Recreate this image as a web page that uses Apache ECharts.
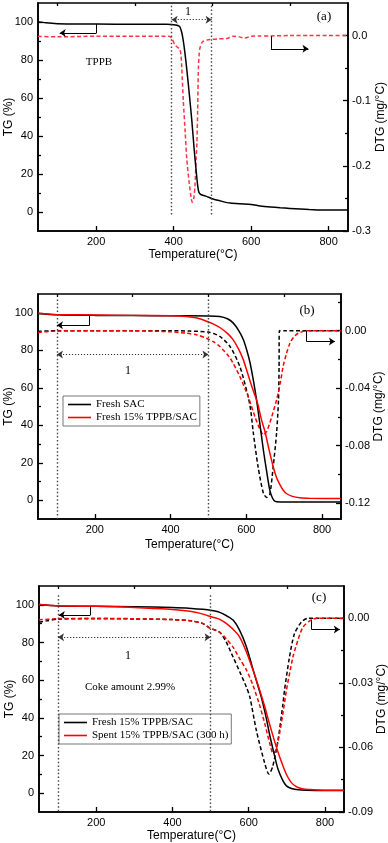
<!DOCTYPE html>
<html><head><meta charset="utf-8">
<script src="https://cdn.jsdelivr.net/npm/echarts@6/dist/echarts.min.js"></script>
<style>html,body{margin:0;padding:0;background:#fff}#c{width:388px;height:843px}</style>
</head><body><div id="c"></div>
<script>
// ---------- data ----------
const xTickLabels = [200, 400, 600, 800];
const xMinorTicks = [100, 300, 500, 700];
const tgTickLabels = [0, 20, 40, 60, 80, 100];
const tgMinorTicks = [10, 30, 50, 70, 90];
const dtgTicksA = [-0.3, -0.2, -0.1, 0];
const dtgMinorA = [-0.25, -0.15, -0.05];
const dtgTicksB = [-0.12, -0.08, -0.04, 0];
const dtgMinorB = [-0.10, -0.06, -0.02, 0.02];
const dtgTicksC = [-0.09, -0.06, -0.03, 0];
const dtgMinorC = [-0.075, -0.045, -0.015];

// (a) TPPB
const aTgTemp = [50,70,100,150,200,300,380,395,405,412,416,421,425,429,434,440,447,453,458,462,465,470,485,502,525,546,570,600,623,650,675,700,727,750,770,800,850];
const aTg = [100.2,99.6,99.1,98.9,98.9,98.8,98.8,98.7,98.4,98.0,97.5,94.5,90,84,75,63,48,33,22,14,10.5,9.2,8.2,6.8,5.6,4.7,4.3,4.0,3.2,2.6,2.2,1.9,1.6,1.3,1.1,1.0,1.0];
const aDtgTemp = [50,100,150,200,250,300,350,388,395,403,410,416,419,421,425,430,434,440,445,448,452,455,458,460,462,464,466,468,472,477,485,494,515,537,554,570,580,590,600,620,650,700,750,800,850];
const aDtg = [-0.001,-0.002,-0.0015,-0.001,-0.001,-0.001,-0.001,-0.001,-0.004,-0.0137,-0.018,-0.021,-0.03,-0.049,-0.1,-0.15,-0.19,-0.225,-0.248,-0.256,-0.25,-0.232,-0.19,-0.166,-0.115,-0.049,-0.028,-0.019,-0.012,-0.0087,-0.007,-0.006,-0.005,-0.0046,-0.001,-0.002,-0.0037,-0.003,-0.001,-0.0008,-0.0005,0,0,0,0];

// (b) Fresh SAC / Fresh 15% TPPB/SAC
const bTg1Temp = [50,100,200,300,400,500,530,550,565,580,592,602,610,619,627,636,645,654,662,669,676,690,850];
const bTg1 = [99.6,98.9,98.6,98.5,98.4,98.3,98.0,96.8,94.6,90.5,85.7,79.5,73.2,63.5,53.6,40.5,26.8,15,5.4,1.2,-0.6,-0.9,-0.9];
const bTg2Temp = [50,80,100,200,300,400,442,470,495,515,531,550,565,580,592,600,610,620,630,640,650,660,671,680,689,697,706,720,741,770,850];
const bTg2 = [99.8,99.3,99.0,98.8,98.6,98.4,98.0,97.2,95.5,93.8,92.0,89.0,85.7,80.5,75.0,70.0,63.5,57.5,51.5,43.0,36.0,27.0,17.9,12.0,8.2,5.5,3.6,2.2,1.3,1.0,0.9];
const bDtg1Temp = [50,100,200,300,400,450,500,530,557,583,605,612,618,631,645,654,662,671,680,685,686.5,687,700,850];
const bDtg1 = [-0.0005,0,0,0,0,-0.0003,-0.001,-0.004,-0.011,-0.025,-0.046,-0.056,-0.07,-0.0946,-0.113,-0.116,-0.114,-0.0946,-0.071,-0.048,-0.025,0,0,0];
const bDtg2Temp = [50,80,150,300,350,400,442,470,495,515,530,557,583,605,623,635,645,654,667,680,690,697,706,715,725,737,750,760,850];
const bDtg2 = [-0.0012,-0.0005,0,0,-0.0003,-0.0008,-0.0018,-0.003,-0.0053,-0.008,-0.011,-0.019,-0.032,-0.046,-0.06,-0.068,-0.0725,-0.07,-0.06,-0.048,-0.036,-0.025,-0.016,-0.0088,-0.0045,-0.0018,-0.0005,0,0];

// (c) Fresh / Spent 15% TPPB/SAC
const cTg1Temp = [50,80,100,200,300,400,450,480,500,524,542,559,576,594,611,622,633,646,655,668,677,690,699,712,725,751,800,850];
const cTg1 = [100.2,99.7,99.4,99.2,99.0,98.6,98.1,97.6,97.1,96.0,94.2,91.9,86.6,77.8,66,58.5,51,40,31,19.7,12.7,6.5,3.9,2.5,2.0,1.6,1.4,1.4];
const cTg2Temp = [50,100,200,250,300,350,400,450,471,506,524,541,559,576,594,611,626,642,655,668,679,690,700,712,725,738,760,800,850];
const cTg2 = [100.2,99.5,99.2,99.0,98.6,98.1,97.5,96.5,95.6,93.4,92.3,90.2,87.0,83.0,75.0,65.5,56.5,46,36.5,27.5,20.5,14.4,9.5,5.6,3.5,2.5,1.9,1.6,1.6];
const cDtg1Temp = [50,70,100,200,300,400,450,480,498,524,541,559,577,594,603,620,642,653,663,677,690,694,707,720,738,755,850];
const cDtg1 = [-0.0018,-0.0012,-0.0004,-0.0002,-0.0003,-0.0006,-0.0012,-0.0025,-0.0045,-0.0065,-0.011,-0.018,-0.025,-0.032,-0.0365,-0.052,-0.0673,-0.0724,-0.0689,-0.0565,-0.0396,-0.0334,-0.018,-0.0072,-0.0018,0,0];
const cDtg2Temp = [50,100,200,300,400,450,480,498,524,541,559,577,594,611,628,642,655,664,672,681,690,699,708,716,725,742,764,780,850];
const cDtg2 = [-0.0007,-0.0002,0,-0.0002,-0.0006,-0.0012,-0.0025,-0.0045,-0.0065,-0.0095,-0.0134,-0.019,-0.024,-0.031,-0.04,-0.0488,-0.058,-0.0627,-0.061,-0.0535,-0.044,-0.0334,-0.025,-0.018,-0.0125,-0.0042,-0.0007,0,0];

// ---------- styling ----------
const SANS = 'Liberation Sans, Arial, sans-serif';
const SERIF = 'Liberation Serif, Times New Roman, serif';
const BLACK = '#000';
const RED = '#ff0000';
const RED_A = '#ff3344';
const zip = (xs, ys) => xs.map((x, i) => [x, ys[i]]);

const grids = [
  {left: 38, top: 3, width: 310, height: 228},
  {left: 38, top: 294, width: 303, height: 225},
  {left: 39, top: 586, width: 305, height: 226}
].map(g => Object.assign({show: true, borderColor: '#000', borderWidth: 1.6, backgroundColor: 'transparent', outerBoundsMode: 'none'}, g));

const xAxes = [], yAxes = [];
const xGaps = [18, 20, 18];
const rightGaps = [27, 32, 32];
const dtgCfg = [
  {min: -0.3, max: 0.05, ticks: dtgTicksA, minor: dtgMinorA, dec: 1},
  {min: -0.131, max: 0.0255, ticks: dtgTicksB, minor: dtgMinorB, dec: 2},
  {min: -0.09, max: 0.015, ticks: dtgTicksC, minor: dtgMinorC, dec: 2}
];
const lineCommon = {show: true, onZero: false, lineStyle: {color: '#000', width: 1.6}};
const nameFont = {fontFamily: SANS, fontSize: 12, color: '#000'};
const labelFont = {fontFamily: SANS, fontSize: 11, color: '#000'};
[0, 1, 2].forEach(g => {
  xAxes.push({type: 'value', gridIndex: g, min: 50, max: 850,
    name: 'Temperature(°C)', nameLocation: 'middle', nameGap: xGaps[g], nameMoveOverlap: false,
    nameTextStyle: nameFont,
    axisLine: lineCommon,
    axisTick: {inside: true, length: 5, customValues: xTickLabels, lineStyle: {color: '#000', width: 1.3}},
    axisLabel: Object.assign({customValues: xTickLabels, margin: 5}, labelFont),
    splitLine: {show: false}});
  xAxes.push({type: 'value', gridIndex: g, min: 50, max: 850,
    axisLine: {show: false, onZero: false},
    axisTick: {inside: true, length: 3, customValues: xMinorTicks, lineStyle: {color: '#000', width: 1.3}},
    axisLabel: {show: false}, splitLine: {show: false}});
  const d = dtgCfg[g];
  yAxes.push({type: 'value', gridIndex: g, min: -10, max: 110, position: 'left',
    name: 'TG (%)', nameLocation: 'middle', nameGap: 23, nameRotate: 90, nameMoveOverlap: false,
    nameTextStyle: nameFont,
    axisLine: lineCommon,
    axisTick: {inside: true, length: 5, customValues: tgTickLabels, lineStyle: {color: '#000', width: 1.3}},
    axisLabel: Object.assign({customValues: tgTickLabels, margin: 5}, labelFont),
    splitLine: {show: false}});
  yAxes.push({type: 'value', gridIndex: g, min: -10, max: 110, position: 'left',
    axisLine: {show: false, onZero: false},
    axisTick: {inside: true, length: 3, customValues: tgMinorTicks, lineStyle: {color: '#000', width: 1.3}},
    axisLabel: {show: false}, splitLine: {show: false}});
  yAxes.push({type: 'value', gridIndex: g, min: d.min, max: d.max, position: 'right',
    name: 'DTG (mg/°C)', nameLocation: 'middle', nameGap: rightGaps[g], nameRotate: 90, nameMoveOverlap: false,
    nameTextStyle: nameFont,
    axisLine: lineCommon,
    axisTick: {inside: true, length: 5, customValues: d.ticks, lineStyle: {color: '#000', width: 1.3}},
    axisLabel: Object.assign({customValues: d.ticks, margin: 4,
      formatter: v => Number(v).toFixed(d.dec)}, labelFont),
    splitLine: {show: false}});
  yAxes.push({type: 'value', gridIndex: g, min: d.min, max: d.max, position: 'right',
    axisLine: {show: false, onZero: false},
    axisTick: {inside: true, length: 3, customValues: d.minor, lineStyle: {color: '#000', width: 1.3}},
    axisLabel: {show: false}, splitLine: {show: false}});
});

// annotation helpers (data coordinates)
const dotStyle = {type: [1.5, 2.2], color: '#444', width: 1.4};
const thinDot = {type: [1.2, 1.8], color: '#333', width: 1};
const solidThin = {type: 'solid', color: '#000', width: 1};
const seg = (p1, p2, style, s1, s2, size) => [
  {coord: p1, symbol: s1 || 'none', symbolSize: size || 7, lineStyle: style},
  {coord: p2, symbol: s2 || 'none', symbolSize: size || 7}
];
const ml = data => ({silent: true, animation: false, label: {show: false}, symbol: 'none', data: data});

function line(name, g, yIdx, temps, vals, color, dashed, extra) {
  return Object.assign({
    name: name, type: 'line', xAxisIndex: g * 2, yAxisIndex: g * 4 + yIdx,
    data: zip(temps, vals), symbol: 'none', showSymbol: false, smooth: 0.25,
    clip: true, animation: false,
    lineStyle: {color: color, width: 1.5, type: dashed ? [4, 2.5] : 'solid'},
    itemStyle: {color: color}, z: dashed ? 2 : 3
  }, extra || {});
}

const series = [
  // (a)
  line('TPPB TG', 0, 0, aTgTemp, aTg, BLACK, false, {markLine: ml([
    seg([395, 108.5], [395, -1.5], dotStyle),
    seg([498, 108.5], [498, -1.5], dotStyle),
    seg([395, 101.2], [498, 101.2], thinDot, 'arrow', 'arrow', 6),
    seg([201, 99], [201, 94.2], solidThin),
    seg([201, 94.2], [106, 94.2], solidThin, 'none', 'arrow', 6)
  ])}),
  line('TPPB DTG', 0, 2, aDtgTemp, aDtg, RED_A, true, {markLine: ml([
    seg([651, -0.001], [651, -0.0204], solidThin),
    seg([651, -0.0204], [748, -0.0204], solidThin, 'none', 'arrow', 6)
  ])}),
  // (b)
  line('Fresh SAC DTG', 1, 2, bDtg1Temp, bDtg1, BLACK, true, {markLine: ml([
    seg([759, 0], [759, -0.0076], solidThin),
    seg([759, -0.0076], [834, -0.0076], solidThin, 'none', 'arrow', 6)
  ])}),
  line('Fresh 15% TPPB/SAC DTG', 1, 2, bDtg2Temp, bDtg2, RED, true),
  line('Fresh SAC', 1, 0, bTg1Temp, bTg1, BLACK, false, {markLine: ml([
    seg([100, 107.1], [100, -10], dotStyle),
    seg([500, 107.1], [500, -10], dotStyle),
    seg([100, 77.7], [500, 77.7], thinDot, 'arrow', 'arrow', 6),
    seg([186.6, 98.2], [186.6, 93.4], solidThin),
    seg([186.6, 93.4], [100, 93.4], solidThin, 'none', 'arrow', 6)
  ])}),
  line('Fresh 15% TPPB/SAC', 1, 0, bTg2Temp, bTg2, RED, false),
  // (c)
  line('Fresh c DTG', 2, 2, cDtg1Temp, cDtg1, BLACK, true, {markLine: ml([
    seg([764.5, -0.0006], [764.5, -0.0052], solidThin),
    seg([764.5, -0.0052], [839, -0.0052], solidThin, 'none', 'arrow', 6)
  ])}),
  line('Spent c DTG', 2, 2, cDtg2Temp, cDtg2, RED, true),
  line('Fresh 15% TPPB/SAC\u200b', 2, 0, cTg1Temp, cTg1, BLACK, false, {markLine: ml([
    seg([100, 105.1], [100, -10], dotStyle),
    seg([500, 105.1], [500, -10], dotStyle),
    seg([100, 82.8], [500, 82.8], thinDot, 'arrow', 'arrow', 6),
    seg([185, 99], [185, 94.6], solidThin),
    seg([185, 94.6], [102, 94.6], solidThin, 'none', 'arrow', 6)
  ])}),
  line('Spent 15% TPPB/SAC (300 h)', 2, 0, cTg2Temp, cTg2, RED, false)
];

const legendBase = {orient: 'vertical', padding: [3, 3, 3, 5], itemWidth: 23, itemHeight: 1.6, itemGap: 2,
  icon: 'rect', borderColor: '#777', borderWidth: 1, backgroundColor: '#fff', selectedMode: false,
  textStyle: {fontFamily: SERIF, fontSize: 11, color: '#000'}};

const txt = (x, y, text, size, font) => ({type: 'text', x: x, y: y, silent: true,
  style: {text: text, fill: '#000', font: size + 'px ' + (font || SERIF), align: 'center', verticalAlign: 'middle'}});

const option = {
  animation: false,
  backgroundColor: '#fff',
  grid: grids, xAxis: xAxes, yAxis: yAxes, series: series,
  legend: [
    Object.assign({left: 63, top: 396, data: ['Fresh SAC', 'Fresh 15% TPPB/SAC']}, legendBase),
    Object.assign({left: 59, top: 714, data: ['Fresh 15% TPPB/SAC\u200b', 'Spent 15% TPPB/SAC (300 h)']}, legendBase)
  ],
  graphic: [
    txt(324, 17, '(a)', 13), txt(99, 62, 'TPPB', 11), txt(188, 12, '1', 12),
    txt(307, 311, '(b)', 13), txt(128, 371, '1', 12),
    txt(319, 598, '(c)', 13), txt(128, 656, '1', 12), txt(130, 687, 'Coke amount 2.99%', 11)
  ]
};
const chart = echarts.init(document.getElementById('c'), null, {renderer: 'canvas'});
chart.setOption(option);
</script></body></html>
